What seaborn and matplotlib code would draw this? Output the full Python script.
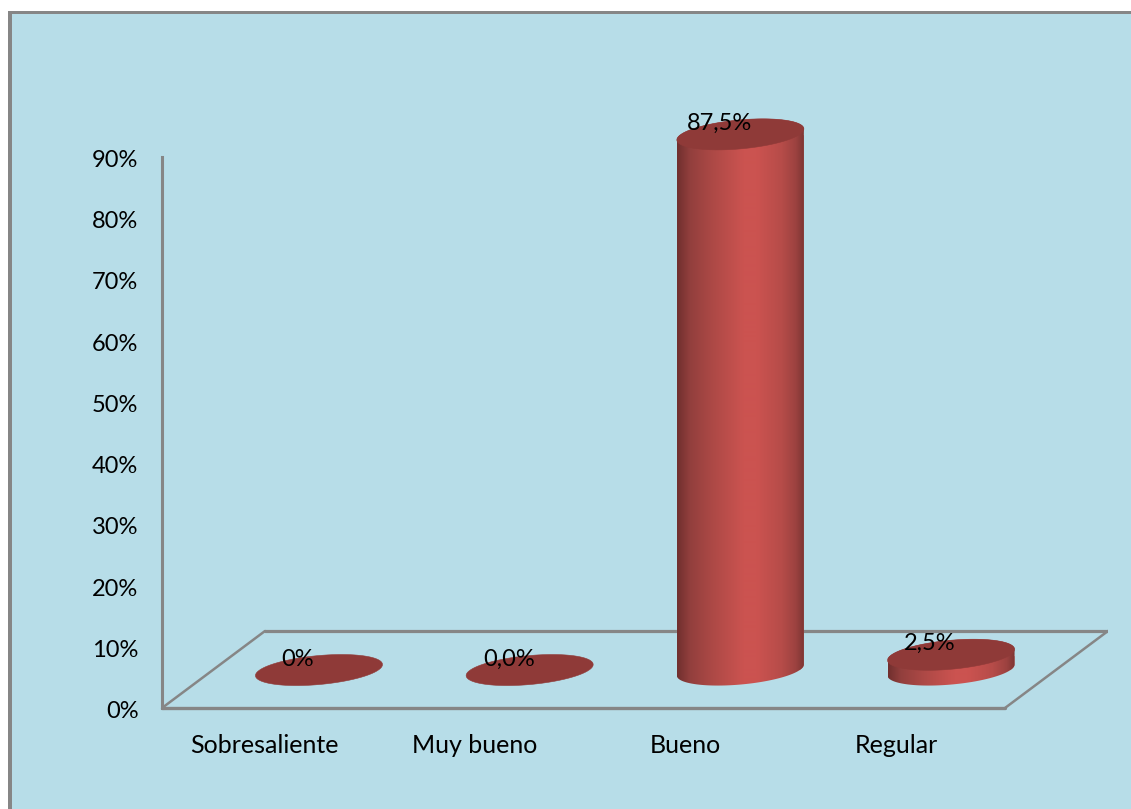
import numpy as np
import pandas as pd
import matplotlib
matplotlib.use("Agg")
import matplotlib.pyplot as plt
from matplotlib.colors import LinearSegmentedColormap
from matplotlib.patches import Polygon, Rectangle
from matplotlib.ticker import PercentFormatter
from matplotlib.transforms import ScaledTranslation
import seaborn as sns

# Survey results
categories = ["Sobresaliente", "Muy bueno", "Bueno", "Regular"]
percentages = [0.0, 0.0, 87.5, 2.5]
value_labels = ["0%", "0,0%", "87,5%", "2,5%"]
y_ticks = [0, 10, 20, 30, 40, 50, 60, 70, 80, 90]

# Colours
PANEL = "#b7dde8"
GREY = "#868686"
CAP = "#8f3a38"
BODY = "#c0504d"

# Pseudo-3D geometry, in axis units
FLOOR_LIFT = 6.2        # where the cylinders stand on the tilted floor
BACK_WALL = 12.58       # height of the rear floor edge
DEPTH = 0.489           # sideways shift between front and rear floor edges
BAR_WIDTH = 0.603
CAP_B = 2.37            # cap ellipse half-height
CAP_SHEAR = 0.9         # rise of the cap's right end
LABEL_SHIFT = -0.26     # category labels sit on the front floor edge

W, H = 1131, 809
sns.set_theme(style="white")
plt.rcParams["font.family"] = ["Lato", "DejaVu Sans"]

fig = plt.figure(figsize=(W / 100, H / 100), dpi=100, facecolor="white")


def fig_rect(x0, y0, x1, y1, color, order):
    """Background rectangle given in pixels from the top-left corner."""
    fig.add_artist(Rectangle((x0 / W, 1 - y1 / H), (x1 - x0) / W, (y1 - y0) / H,
                             transform=fig.transFigure, facecolor=color,
                             edgecolor="none", zorder=order))


fig_rect(8, 11, W, H, GREY, -2)
fig_rect(12, 14, W, H, PANEL, -1)

# Axes span the floor's full width; y runs 6.122 px per percent
ax = fig.add_axes([162 / W, 1 - 708 / H, (1108 - 162) / W, 612.2 / H])
ax.patch.set_alpha(0)

df = pd.DataFrame({"categoria": categories, "porcentaje": percentages})
sns.barplot(data=df, x="categoria", y="porcentaje", color=BODY, saturation=1,
            width=BAR_WIDTH, bottom=FLOOR_LIFT, ax=ax, zorder=3)

ax.set_xlim(-0.745, 3.745)
ax.set_ylim(0, 100)

# Tilted floor
front_right = 3.256
floor_x = [-0.745, -0.745 + DEPTH, 3.745, front_right]
floor_y = [0, BACK_WALL, BACK_WALL, 0]
ax.plot(floor_x[:2], floor_y[:2], color=GREY, lw=1.8, zorder=1, solid_capstyle="round")
ax.plot(floor_x[1:3], floor_y[1:3], color=GREY, lw=2.3, zorder=1)
ax.plot(floor_x[2:], floor_y[2:], color=GREY, lw=1.8, zorder=1, solid_capstyle="round")
ax.plot([-0.745, front_right], [0, 0], color=GREY, lw=2.4, zorder=1, clip_on=False)


def ellipse_arc(cx, cy, t):
    half = BAR_WIDTH / 2
    return np.column_stack([cx + half * np.cos(t),
                            cy + CAP_B * np.sin(t) + CAP_SHEAR * np.cos(t)])


# Horizontal shading that turns flat bars into cylinders
shade = LinearSegmentedColormap.from_list(
    "cylinder",
    [(0.00, "#702f2e"), (0.10, "#923f3d"), (0.28, "#ad4946"), (0.52, "#cb5350"),
     (0.62, "#cc5350"), (0.82, "#b64c49"), (0.93, "#9c4240"), (1.00, "#7a3432")])
ramp = np.linspace(0, 1, 256)[None, :]

for pos, (value, bar) in enumerate(zip(percentages, ax.patches)):
    top = FLOOR_LIFT + value
    lower = ellipse_arc(pos, FLOOR_LIFT, np.linspace(np.pi, 2 * np.pi, 80))
    upper = ellipse_arc(pos, top, np.linspace(0, np.pi, 80))
    outline = Polygon(np.vstack([lower, upper]), closed=True,
                      transform=ax.transData, facecolor="none", edgecolor="none")
    ax.add_patch(outline)
    bar.set_clip_path(outline)
    if value > 0:
        img = ax.imshow(ramp, cmap=shade, aspect="auto", zorder=4,
                        interpolation="bilinear",
                        extent=[pos - BAR_WIDTH / 2, pos + BAR_WIDTH / 2,
                                FLOOR_LIFT - 4, top + 4])
        img.set_clip_path(outline)
    cap = ellipse_arc(pos, top, np.linspace(0, 2 * np.pi, 160))
    ax.add_patch(Polygon(cap, closed=True, facecolor=CAP, edgecolor=CAP,
                         lw=0.4, zorder=5))
    ax.annotate(value_labels[pos], xy=(pos, top), xytext=(-21, 11),
                textcoords="offset pixels", ha="center", va="center",
                fontsize=17, color="black", zorder=6)

ax.set_xlim(-0.745, 3.745)
ax.set_ylim(0, 100)

# Axes furniture
sns.despine(ax=ax, top=True, right=True, bottom=True, left=False)
ax.spines["left"].set_bounds(0, 90)
ax.spines["left"].set_color(GREY)
ax.spines["left"].set_linewidth(2.2)
ax.set_yticks(y_ticks)
ax.yaxis.set_major_formatter(PercentFormatter(decimals=0))
ax.set_xticks(np.arange(len(categories)) + LABEL_SHIFT)
ax.set_xticklabels(categories)
ax.tick_params(axis="y", length=0, pad=17, labelsize=17, labelcolor="black")
ax.tick_params(axis="x", length=0, pad=18.5, labelsize=18, labelcolor="black")
ax.set_xlabel("")
ax.set_ylabel("")

# Nudge the percent labels down so they centre on their gridline heights
nudge = ScaledTranslation(0, -1.5 / 100, fig.dpi_scale_trans)
for label in ax.get_yticklabels():
    label.set_transform(label.get_transform() + nudge)

fig.savefig("out.png", dpi=100, facecolor=fig.get_facecolor())
